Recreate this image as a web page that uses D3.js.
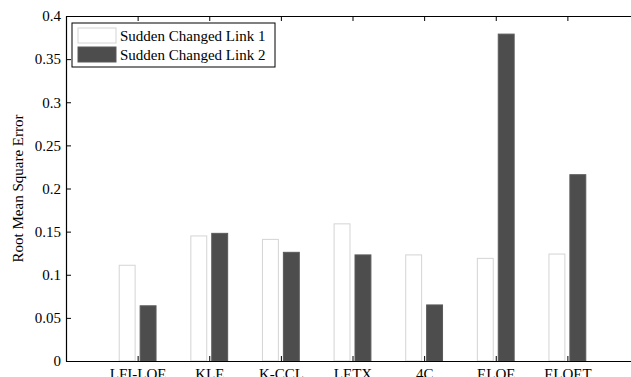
<!DOCTYPE html>
<html>
<head>
<meta charset="utf-8">
<script src="https://cdn.jsdelivr.net/npm/d3@7"></script>
<style>
  html, body { margin: 0; padding: 0; background: #fff; }
  svg { display: block; }
  svg text { font-family: "Liberation Serif", "Times New Roman", serif; }
</style>
</head>
<body>
<svg id="chart" width="631" height="377"></svg>
<script>
// Methods compared along the x axis
const methods = ["LFI-LOE", "KLE", "K-CCL", "LETX", "4C", "ELOE", "ELOET"];
// RMSE per method for each sudden-change scenario
const link1 = [0.111, 0.145, 0.141, 0.159, 0.123, 0.119, 0.124];
const link2 = [0.064, 0.148, 0.126, 0.123, 0.065, 0.379, 0.216];
const seriesNames = ["Sudden Changed Link 1", "Sudden Changed Link 2"];
const yTicks = [0, 0.05, 0.1, 0.15, 0.2, 0.25, 0.3, 0.35, 0.4];

const svg = d3.select("#chart");
const plotLeft = 66, plotRight = 639, plotTop = 16, plotBottom = 361;
const serif = "Liberation Serif, Times New Roman, serif";

// Category positions 1..7 on a continuous 0..8 axis
const x = d3.scaleLinear().domain([0, methods.length + 1]).range([plotLeft, plotRight]);
const y = d3.scaleLinear().domain([0, 0.4]).range([plotBottom, plotTop]);
const step = x(1) - x(0);
const barW = 0.222 * step;
const offset = 0.146 * step;

const series = [
  { name: seriesNames[0], values: link1, fill: "#ffffff", stroke: "#d4d4d4", dx: -offset },
  { name: seriesNames[1], values: link2, fill: "#4d4d4d", stroke: "#5a5a5a", dx: offset }
];

const bars = svg.append("g");
series.forEach(s => {
  bars.selectAll(null)
    .data(s.values)
    .join("rect")
    .attr("x", (d, i) => x(i + 1) + s.dx - barW / 2)
    .attr("width", barW)
    .attr("y", d => y(d))
    .attr("height", d => y(0) - y(d))
    .attr("fill", s.fill)
    .attr("stroke", s.stroke)
    .attr("stroke-width", 1);
});

const fmt = d => (d === 0 ? "0" : String(+d.toFixed(2)));
const tickVals = methods.map((m, i) => i + 1);

// Left axis, ticks pointing inward
const gy = svg.append("g").attr("transform", `translate(${plotLeft},0)`)
  .call(d3.axisLeft(y).tickValues(yTicks).tickFormat(fmt).tickSizeInner(-5).tickSizeOuter(0).tickPadding(5));

// Bottom axis with method names
const gx = svg.append("g").attr("transform", `translate(0,${plotBottom})`)
  .call(d3.axisBottom(x).tickValues(tickVals).tickFormat(d => methods[d - 1]).tickSizeInner(-5).tickSizeOuter(0).tickPadding(7));

// Top axis (mirror ticks, no labels)
const gt = svg.append("g").attr("transform", `translate(0,${plotTop})`)
  .call(d3.axisTop(x).tickValues(tickVals).tickFormat("").tickSizeInner(-5).tickSizeOuter(0));

// Right axis (mirror ticks, no labels)
const gr = svg.append("g").attr("transform", `translate(${plotRight},0)`)
  .call(d3.axisRight(y).tickValues(yTicks).tickFormat("").tickSizeInner(-5).tickSizeOuter(0));

[gy, gx, gt, gr].forEach(g => {
  g.attr("font-family", serif).attr("font-size", 15);
  g.selectAll(".domain").attr("stroke", "#000").attr("stroke-width", 1.2);
  g.selectAll(".tick line").attr("stroke", "#000").attr("stroke-width", 1);
  g.selectAll(".tick text").attr("fill", "#000");
});

// Y axis title
svg.append("text")
  .attr("transform", `translate(23,${(plotTop + plotBottom) / 2}) rotate(-90)`)
  .attr("text-anchor", "middle")
  .attr("font-size", 15)
  .attr("fill", "#000")
  .text("Root Mean Square Error");

// Legend
const lg = svg.append("g").attr("transform", "translate(72,23)");
lg.append("rect").attr("width", 203).attr("height", 44)
  .attr("fill", "#fff").attr("stroke", "#000").attr("stroke-width", 1);
series.forEach((s, i) => {
  const row = lg.append("g").attr("transform", `translate(6,${5 + i * 19})`);
  row.append("rect").attr("width", 38).attr("height", 15)
    .attr("fill", s.fill).attr("stroke", s.stroke);
  row.append("text").attr("x", 42).attr("y", 12.5)
    .attr("font-size", 15).attr("fill", "#000").text(s.name);
});
</script>
</body>
</html>
